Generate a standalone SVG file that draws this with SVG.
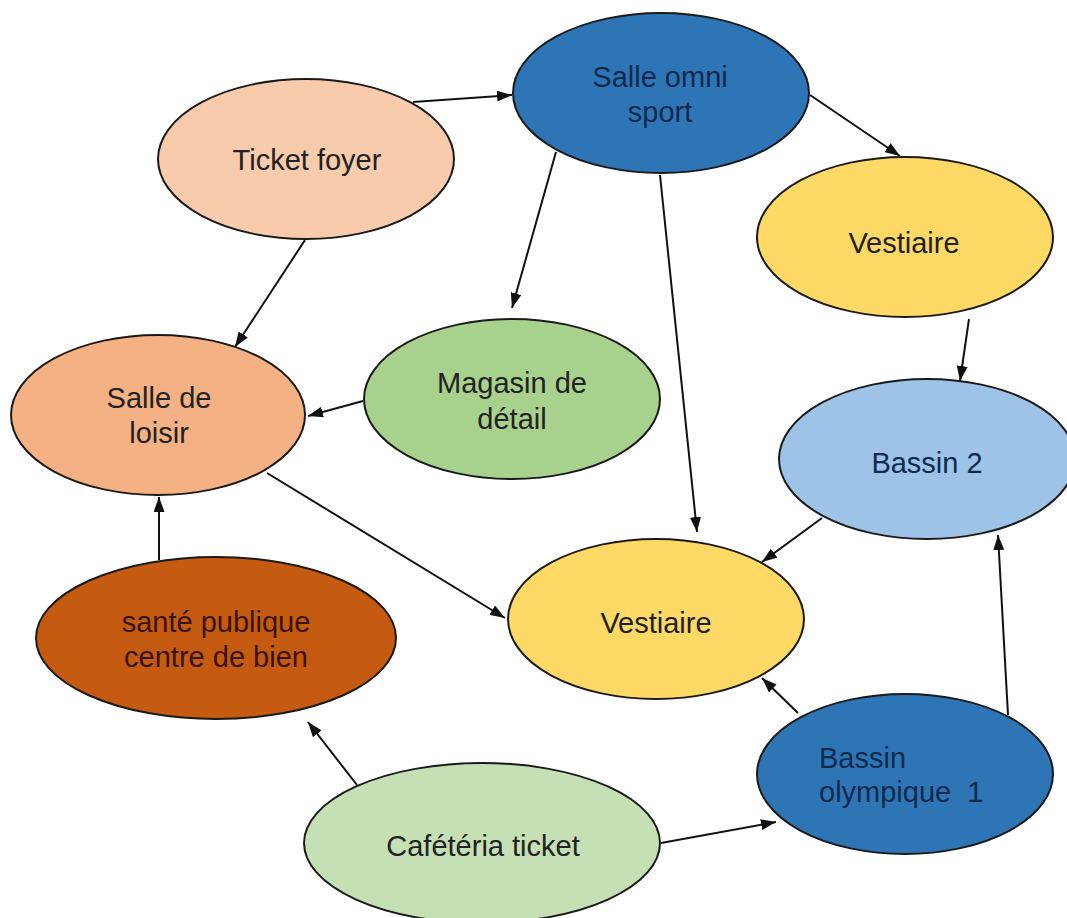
<svg xmlns="http://www.w3.org/2000/svg" width="1067" height="918" viewBox="0 0 1067 918">
<defs>
<marker id="arr" markerUnits="userSpaceOnUse" markerWidth="15" markerHeight="11" refX="15" refY="5.5" orient="auto">
<path d="M0,0 L15,5.5 L0,11 z" fill="#111"/>
</marker>
<style>
.n{stroke:#1a1a1a;stroke-width:2}
.t{font-family:"Liberation Sans",Arial,sans-serif;font-size:29px;text-anchor:middle;fill:#222}
.tb{fill:#0e2a4d}
.ts{fill:#3a1300}
.c line{stroke:#111;stroke-width:2;marker-end:url(#arr)}
</style>
</defs>
<rect width="1067" height="918" fill="#fff"/>
<g class="c" id="connectors">
<line x1="413" y1="102" x2="512" y2="95"/>
<line x1="810" y1="95" x2="900" y2="156"/>
<line x1="556" y1="152" x2="512" y2="308"/>
<line x1="660" y1="175" x2="697" y2="532"/>
<line x1="305" y1="240" x2="235" y2="347"/>
<line x1="363" y1="401" x2="308" y2="416"/>
<line x1="969" y1="319" x2="960" y2="381"/>
<line x1="822" y1="518" x2="762" y2="562"/>
<line x1="798" y1="713" x2="762" y2="678"/>
<line x1="1008" y1="715" x2="998" y2="535"/>
<line x1="661" y1="843" x2="776" y2="822"/>
<line x1="357" y1="785" x2="308" y2="722"/>
<line x1="159" y1="560" x2="159" y2="497"/>
<line x1="267" y1="473" x2="505" y2="618"/>
</g>
<g id="salle-omni"><ellipse class="n" cx="661" cy="93" rx="148" ry="80" fill="#2E75B6"/><text class="t tb" x="660" y="87">Salle omni</text><text class="t tb" x="660" y="122">sport</text></g>
<g id="ticket-foyer"><ellipse class="n" cx="306" cy="159" rx="148" ry="80" fill="#F8CBAD"/><text class="t" x="307" y="170">Ticket foyer</text></g>
<g id="vestiaire-1"><ellipse class="n" cx="905" cy="237" rx="148" ry="80" fill="#FFD966"/><text class="t" x="904" y="253">Vestiaire</text></g>
<g id="salle-loisir"><ellipse class="n" cx="158" cy="415" rx="147" ry="80" fill="#F4B183"/><text class="t" x="159" y="408">Salle de</text><text class="t" x="159" y="443">loisir</text></g>
<g id="magasin"><ellipse class="n" cx="512" cy="399" rx="148" ry="80" fill="#A9D18E"/><text class="t" x="512" y="393">Magasin de</text><text class="t" x="512" y="429">détail</text></g>
<g id="bassin-2"><ellipse class="n" cx="927" cy="459" rx="148" ry="80" fill="#9DC3E6"/><text class="t tb" x="927" y="473">Bassin 2</text></g>
<g id="vestiaire-2"><ellipse class="n" cx="656" cy="619" rx="148" ry="80" fill="#FFD966"/><text class="t" x="656" y="633">Vestiaire</text></g>
<g id="sante"><ellipse class="n" cx="216" cy="638" rx="180" ry="81" fill="#C55A11"/><text class="t ts" x="216" y="632">santé publique</text><text class="t ts" x="216" y="667">centre de bien</text></g>
<g id="bassin-olympique"><ellipse class="n" cx="905" cy="774" rx="148" ry="80" fill="#2E75B6"/><text class="t tb" x="819" y="768" style="text-anchor:start">Bassin</text><text class="t tb" x="819" y="802" style="text-anchor:start;white-space:pre">olympique  1</text></g>
<g id="cafeteria"><ellipse class="n" cx="482" cy="843" rx="178" ry="80" fill="#C5E0B4"/><text class="t" x="483" y="856">Cafétéria ticket</text></g>
</svg>
